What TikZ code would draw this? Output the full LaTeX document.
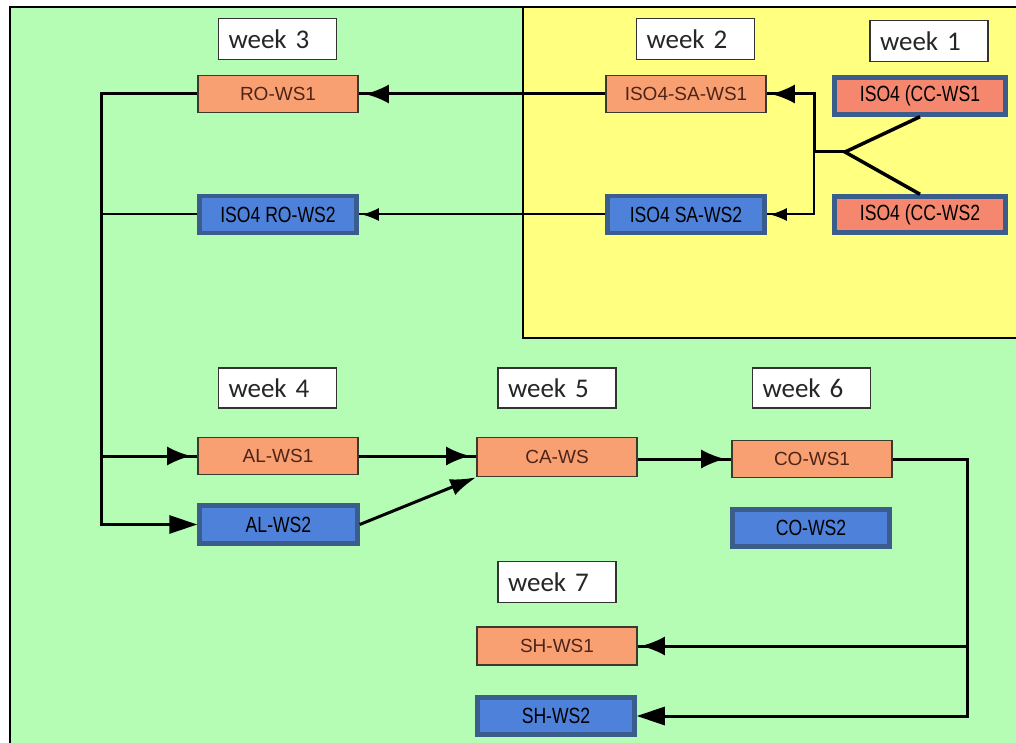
\documentclass[tikz,border=0pt]{standalone}
\usepackage{fontspec}
\setmainfont{Liberation Sans}
\newfontfamily\weekfont{Carlito}
\newfontfamily\narrowfont{Liberation Sans}[FakeStretch=0.8]
\newfontfamily\orfont{Liberation Sans}
\usetikzlibrary{arrows.meta,calc}
\definecolor{bggreen}{HTML}{B5FDB5}
\definecolor{bgyellow}{HTML}{FFFF80}
\definecolor{orfill}{HTML}{F9A072}
\definecolor{orborder}{HTML}{3A3A2E}
\definecolor{ortext}{HTML}{4E2418}
\definecolor{blfill}{HTML}{4E81DA}
\definecolor{blborder}{HTML}{3A5D8C}
\definecolor{ccfill}{HTML}{F5876E}
\definecolor{weektext}{HTML}{262626}
\tikzset{
  weekbox/.style={draw=black!80, line width=1.5pt, fill=white, text width=98pt, align=left,
    inner xsep=10pt, inner ysep=0pt, minimum height=#1, font=\fontsize{27}{30}\selectfont\weekfont, text=weektext},
  weekbox/.default=41pt,
  orbox/.style={draw=orborder, line width=1.6pt, fill=orfill, minimum width=160pt, minimum height=37pt,
    inner sep=0pt, font=\fontsize{19}{22}\selectfont\orfont, text=ortext},
  blbox/.style={draw=blborder, line width=4.5pt, fill=blfill, minimum width=157pt, minimum height=37pt,
    inner sep=0pt, font=\fontsize{22}{24}\selectfont\narrowfont, text=black},
  ccbox/.style={draw=blborder, line width=4.5pt, fill=ccfill, minimum width=171pt, minimum height=37pt,
    inner sep=0pt, font=\fontsize{22}{24}\selectfont\narrowfont, text=black},
  conn/.style={line width=3pt, draw=black},
  thinconn/.style={line width=2pt, draw=black},
  gaptip/.style={-{Latex[length=24pt,width=19pt]}, shorten >=#1},
  gaptip/.default=6pt,
  smalltip/.style={-{Latex[length=17pt,width=13pt]}, shorten >=3pt},
  bigtip/.style={-{Triangle[length=28pt,width=18pt]}},
}
\begin{document}
\begin{tikzpicture}[x=1pt,y=-1pt]
\useasboundingbox (0,0) rectangle (1016,743);
% backgrounds
\fill[bggreen] (10,7) rectangle (1016,743);
\fill[bgyellow] (523,7) rectangle (1016,338);
\draw[line width=1.8pt] (523,7) -- (523,338) -- (1016,338);
\draw[line width=2.2pt] (10,743) -- (10,7) -- (1016,7);
% week labels
\node[weekbox] (w3) at (277.5,39) {week 3};
\node[weekbox] (w2) at (695.5,39) {week 2};
\node[weekbox] (w1) at (929,41) {week 1};
\node[weekbox=40pt] (w4) at (277.5,388) {week 4};
\node[weekbox=40pt] (w5) at (557,388) {week 5};
\node[weekbox=40pt] (w6) at (811.5,388) {week 6};
\node[weekbox] (w7) at (557,582) {week 7};
% task boxes
\node[orbox] (ro1) at (278,94) {RO-WS1};
\node[orbox] (sa1) at (686,94) {ISO4-SA-WS1};
\node[ccbox] (cc1) at (920,96) {ISO4 (CC-WS1};
\node[blbox] (ro2) at (278,214.5) {ISO4 RO-WS2};
\node[blbox] (sa2) at (686,214.5) {ISO4 SA-WS2};
\node[ccbox, minimum height=36pt] (cc2) at (920,214.5) {ISO4 (CC-WS2};
\node[orbox] (al1) at (278,456) {AL-WS1};
\node[orbox, minimum height=39pt] (ca) at (557,457) {CA-WS};
\node[orbox] (co1) at (812,459) {CO-WS1};
\node[blbox, minimum width=158pt, minimum height=38pt] (al2) at (278.5,524.5) {AL-WS2};
\node[blbox, minimum height=37pt] (co2) at (811,528) {CO-WS2};
\node[orbox, minimum height=38pt] (sh1) at (557,646) {SH-WS1};
\node[blbox, minimum height=37pt] (sh2) at (556,716) {SH-WS2};
% coordinates
\coordinate (j) at (845,152);
\coordinate (v) at (814,152);
\coordinate (lx) at (101,0);
\coordinate (rx) at (967,0);
% connectors
\draw[conn, line width=3.5pt] (cc1.south) -- (j) -- (cc2.north);
\draw[conn] (j) -- (v);
\draw[conn] (v) |- (sa1.east);
\draw[conn, gaptip=4pt] (v) |- (sa1.east);
\draw[thinconn] (v) |- (sa2.east);
\draw[thinconn, smalltip] (v) |- (sa2.east);
\draw[conn] (sa1.west) -- (ro1.east);
\draw[conn, gaptip] (sa1.west) -- (ro1.east);
\draw[thinconn] (sa2.west) -- (ro2.east);
\draw[thinconn, smalltip] (sa2.west) -- (ro2.east);
\draw[conn, bigtip] (ro1.west) -- (ro1.west -| lx) |- (al2.west);
\draw[conn] (al1.west -| lx) -- (al1.west);
\draw[conn, gaptip] (al1.west -| lx) -- (al1.west);
\draw[thinconn] (ro2.west) -- (ro2.west -| lx);
\draw[conn] (al1.east) -- (al1.east -| ca.west);
\draw[conn, gaptip] (al1.east) -- (al1.east -| ca.west);
\draw[conn, -{Latex[length=26pt,width=17pt]}] (al2.east) -- (ca.south west);
\draw[conn] (ca.east |- co1.west) -- (co1.west);
\draw[conn, gaptip] (ca.east |- co1.west) -- (co1.west);
\draw[conn, bigtip] (co1.east) -- (co1.east -| rx) |- (sh2.east);
\draw[conn] (sh1.east -| rx) -- (sh1.east);
\draw[conn, gaptip=3pt] (sh1.east -| rx) -- (sh1.east);
\end{tikzpicture}
\end{document}
